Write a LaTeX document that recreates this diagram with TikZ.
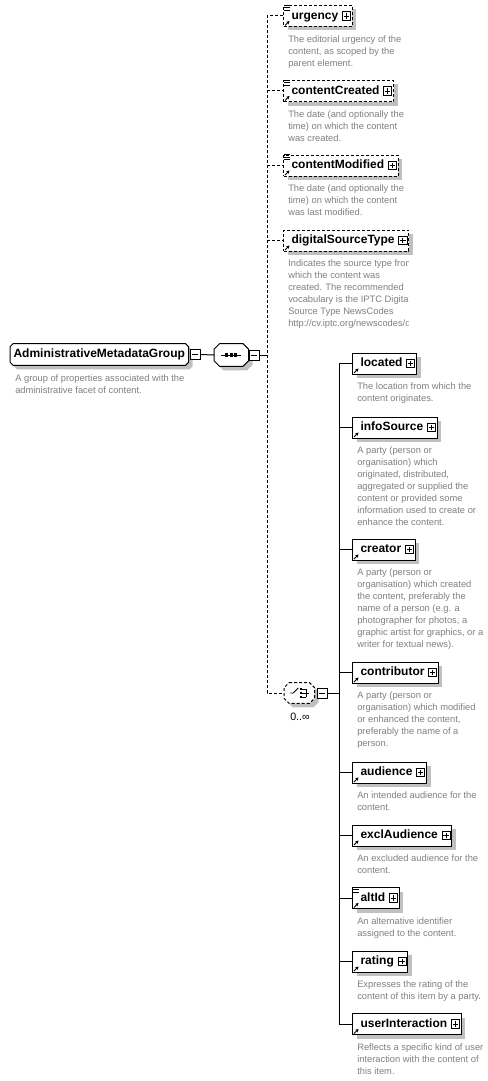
\documentclass[tikz,border=0pt]{standalone}
\usepackage{fontspec}
\setmainfont{Liberation Sans}
\usetikzlibrary{shadows,arrows.meta}
\pgfdeclarelayer{bg}
\pgfsetlayers{bg,main}
\definecolor{desccol}{RGB}{128,128,128}
\definecolor{shadcol}{RGB}{192,192,192}
\tikzset{
  conn/.style={line width=0.75pt},
  opt/.style={dash pattern=on 2.25pt off 1.5pt},
  shad/.style={drop shadow={shadow xshift=3pt,shadow yshift=-3pt,fill=shadcol,opacity=1}},
  elem/.style={draw,fill=white,line width=0.75pt,shad,minimum height=15.75pt,
    inner xsep=0pt,inner ysep=0pt,font=\fontsize{9}{11}\selectfont\bfseries,
    text height=6.6pt,text depth=1.8pt},
  grp/.style={rectangle,minimum width=133.5pt,minimum height=15.75pt,
    inner sep=0pt,font=\fontsize{9}{11}\selectfont\bfseries,text height=6.6pt,text depth=1.8pt},
  compos/.style={rectangle,minimum width=25.5pt,minimum height=16.5pt,inner sep=0pt},
  choicebox/.style={rectangle,minimum width=22.5pt,minimum height=15pt,inner sep=0pt},
  octfill/.style={fill=white,draw,line width=0.75pt},
  plusbox/.style={draw,fill=white,line width=0.6pt,minimum size=6.2pt,inner sep=0pt,
    path picture={\draw[line width=0.6pt]
      ([xshift=1.1pt]path picture bounding box.west) -- ([xshift=-1.1pt]path picture bounding box.east)
      ([yshift=1.1pt]path picture bounding box.south) -- ([yshift=-1.1pt]path picture bounding box.north);}},
  minusbox/.style={draw,fill=white,line width=0.6pt,minimum size=7.5pt,inner sep=0pt,
    path picture={\draw[line width=0.6pt]
      ([xshift=1.4pt]path picture bounding box.west) -- ([xshift=-1.4pt]path picture bounding box.east);}},
  desc/.style={font=\fontsize{7}{9}\selectfont,text=desccol,align=left,inner sep=0pt,anchor=north west},
  refarrow/.style={line width=0.7pt,-{Stealth[length=2.4pt,width=2.6pt]}},
  lic/.style={line width=0.6pt},
  icon/.style={line width=0.6pt},
}
% octagon outline with shadow behind a named node
\newcommand\octpath[3]{% node, chamfer (px), shift
  ([shift={(#2+#3,#3)}]#1.north west) -- ([shift={(-#2+#3,#3)}]#1.north east)
  -- ([shift={(#3,#2+#3)}]#1.north east) -- ([shift={(#3,-#2+#3)}]#1.south east)
  -- ([shift={(-#2+#3,#3)}]#1.south east) -- ([shift={(#2+#3,#3)}]#1.south west)
  -- ([shift={(#3,-#2+#3)}]#1.south west) -- ([shift={(#3,#2+#3)}]#1.north west) -- cycle}
\newcommand\octagon[3]{% node, chamfer, extra style
  \begin{pgfonlayer}{bg}
    \fill[shadcol] \octpath{#1}{#2}{4};
    \path[octfill,#3] \octpath{#1}{#2}{0};
  \end{pgfonlayer}}
\newcommand\mkbox[5]{% name, x, y, label, style
  \node[elem,#5,anchor=west] (#1) at (#2,#3) {\hspace*{6pt}#4\hspace*{10.5pt}};
  \node[plusbox,anchor=east] (#1p) at ([xshift=-1.3pt]#1.east) {};
  \draw[refarrow] ([shift={(2,-1.5)}]#1.south west) -- ++(4.5,-4.5);
}
\newcommand\mkelem[6]{%
  \mkbox{#1}{#2}{#3}{#4}{#5}
  \node[desc] (#1d) at ({#2+5},{#3+19}) {#6};
}
\newcommand\listicon[1]{%
  \draw[lic] ([shift={(1,0)}]#1.north west) -- ++(6,0)
             ([shift={(1,2.5)}]#1.north west) -- ++(6,0)
             ([shift={(1,5)}]#1.north west) -- ++(6,0);
}
\begin{document}
\begin{tikzpicture}[x=0.75pt,y=-0.75pt]
\begin{pgfonlayer}{bg}
\useasboundingbox[fill=white] (0,0) rectangle (487,1081);
\end{pgfonlayer}
\coordinate (trunk) at (267,0);
\coordinate (br) at (339,0);

% main group
\node[grp,anchor=west] (main) at (10,354.5) {AdministrativeMetadataGroup};
\octagon{main}{3}{}
\node[minusbox,anchor=west] (mainm) at ([xshift=1pt]main.east) {};
\node[desc] (maind) at (15,374) {A group of properties associated with the\\administrative facet of content.};

% sequence compositor
\node[compos,anchor=west] (seq) at (214,355) {};
\octagon{seq}{5.5}{}
\draw[icon] ([xshift=-7.5pt]seq.center) -- ([xshift=7.5pt]seq.center);
\foreach \dx in {-3.4pt,0pt,3.4pt}{
  \fill ([xshift=\dx]seq.center) +(-1.25pt,-1.25pt) rectangle +(1.25pt,1.25pt);
}
\node[minusbox,anchor=west] (seqm) at (seq.east) {};
\draw[conn] (mainm.east) -- (seq.west);

% choice compositor
\node[choicebox,anchor=west] (choice) at (284,693) {};
\octagon{choice}{5}{opt}
\draw[icon] ([shift={(-9,0)}]choice.center) -- ++(3,0) -- ++(5,-5);
\foreach \dy in {-4,0,4}{
  \fill ([shift={(2,\dy)}]choice.center) +(-0.9pt,-0.9pt) rectangle +(0.9pt,0.9pt);
  \draw[icon] ([shift={(3,\dy)}]choice.center) -- ++(4,0);
}
\draw[icon] ([shift={(7,-4)}]choice.center) -- ([shift={(7,4)}]choice.center);
\draw[icon] ([shift={(7,0)}]choice.center) -- ([shift={(10,0)}]choice.center);
\node[minusbox,anchor=west] (choicem) at ([xshift=1.5pt]choice.east) {};
\node[font=\fontsize{8}{9}\selectfont,inner sep=0pt] (mult) at (300,717) {0..∞};

% optional elements
\mkelem{urgency}{283}{16}{urgency}{opt}{The editorial urgency of the\\content, as scoped by the\\parent element.}
\listicon{urgency}
\mkelem{contentCreated}{283}{91}{contentCreated}{opt}{The date (and optionally the\\time) on which the content\\was created.}
\listicon{contentCreated}
\mkelem{contentModified}{283}{165.5}{contentModified}{opt}{The date (and optionally the\\time) on which the content\\was last modified.}
\listicon{contentModified}
\mkbox{digitalSourceType}{283}{240.5}{digitalSourceType}{opt}
\begin{scope}
\clip (280,252) rectangle (408,340);
\node[desc] (digitalSourceTyped) at (288,259.5) {Indicates the source type from\\which the content was\\created. The recommended\\vocabulary is the IPTC Digital\\Source Type NewsCodes\\http://cv.iptc.org/newscodes/d};
\end{scope}

% choice elements
\mkelem{located}{352}{363.5}{located}{}{The location from which the\\content originates.}
\mkelem{infoSource}{352}{427.5}{infoSource}{}{A party (person or\\organisation) which\\originated, distributed,\\aggregated or supplied the\\content or provided some\\information used to create or\\enhance the content.}
\mkelem{creator}{352}{549.5}{creator}{}{A party (person or\\organisation) which created\\the content, preferably the\\name of a person (e.g. a\\photographer for photos, a\\graphic artist for graphics, or a\\writer for textual news).}
\mkelem{contributor}{352}{672.5}{contributor}{}{A party (person or\\organisation) which modified\\or enhanced the content,\\preferably the name of a\\person.}
\mkelem{audience}{352}{772.5}{audience}{}{An intended audience for the\\content.}
\mkelem{exclAudience}{352}{835.5}{exclAudience}{}{An excluded audience for the\\content.}
\mkelem{altId}{352}{898}{altId}{}{An alternative identifier\\assigned to the content.}
\listicon{altId}
\mkelem{rating}{352}{961.5}{rating}{}{Expresses the rating of the\\content of this item by a party.}
\mkelem{userInteraction}{352}{1024}{userInteraction}{}{Reflects a specific kind of user\\interaction with the content of\\this item.}

% connectors
\draw[conn] (seqm.east) -- (seqm.east -| trunk);
\draw[conn,opt] (urgency.west) -- (urgency.west -| trunk) -- (choice.west -| trunk) -- (choice.west);
\foreach \n in {contentCreated,contentModified,digitalSourceType}{
  \draw[conn,opt] (\n.west -| trunk) -- (\n.west);
}
\draw[conn] (choicem.east) -- (choicem.east -| br);
\draw[conn] (located.west -| br) -- (userInteraction.west -| br);
\foreach \n in {located,infoSource,creator,contributor,audience,exclAudience,altId,rating,userInteraction}{
  \draw[conn] (\n.west -| br) -- (\n.west);
}
\end{tikzpicture}
\end{document}
